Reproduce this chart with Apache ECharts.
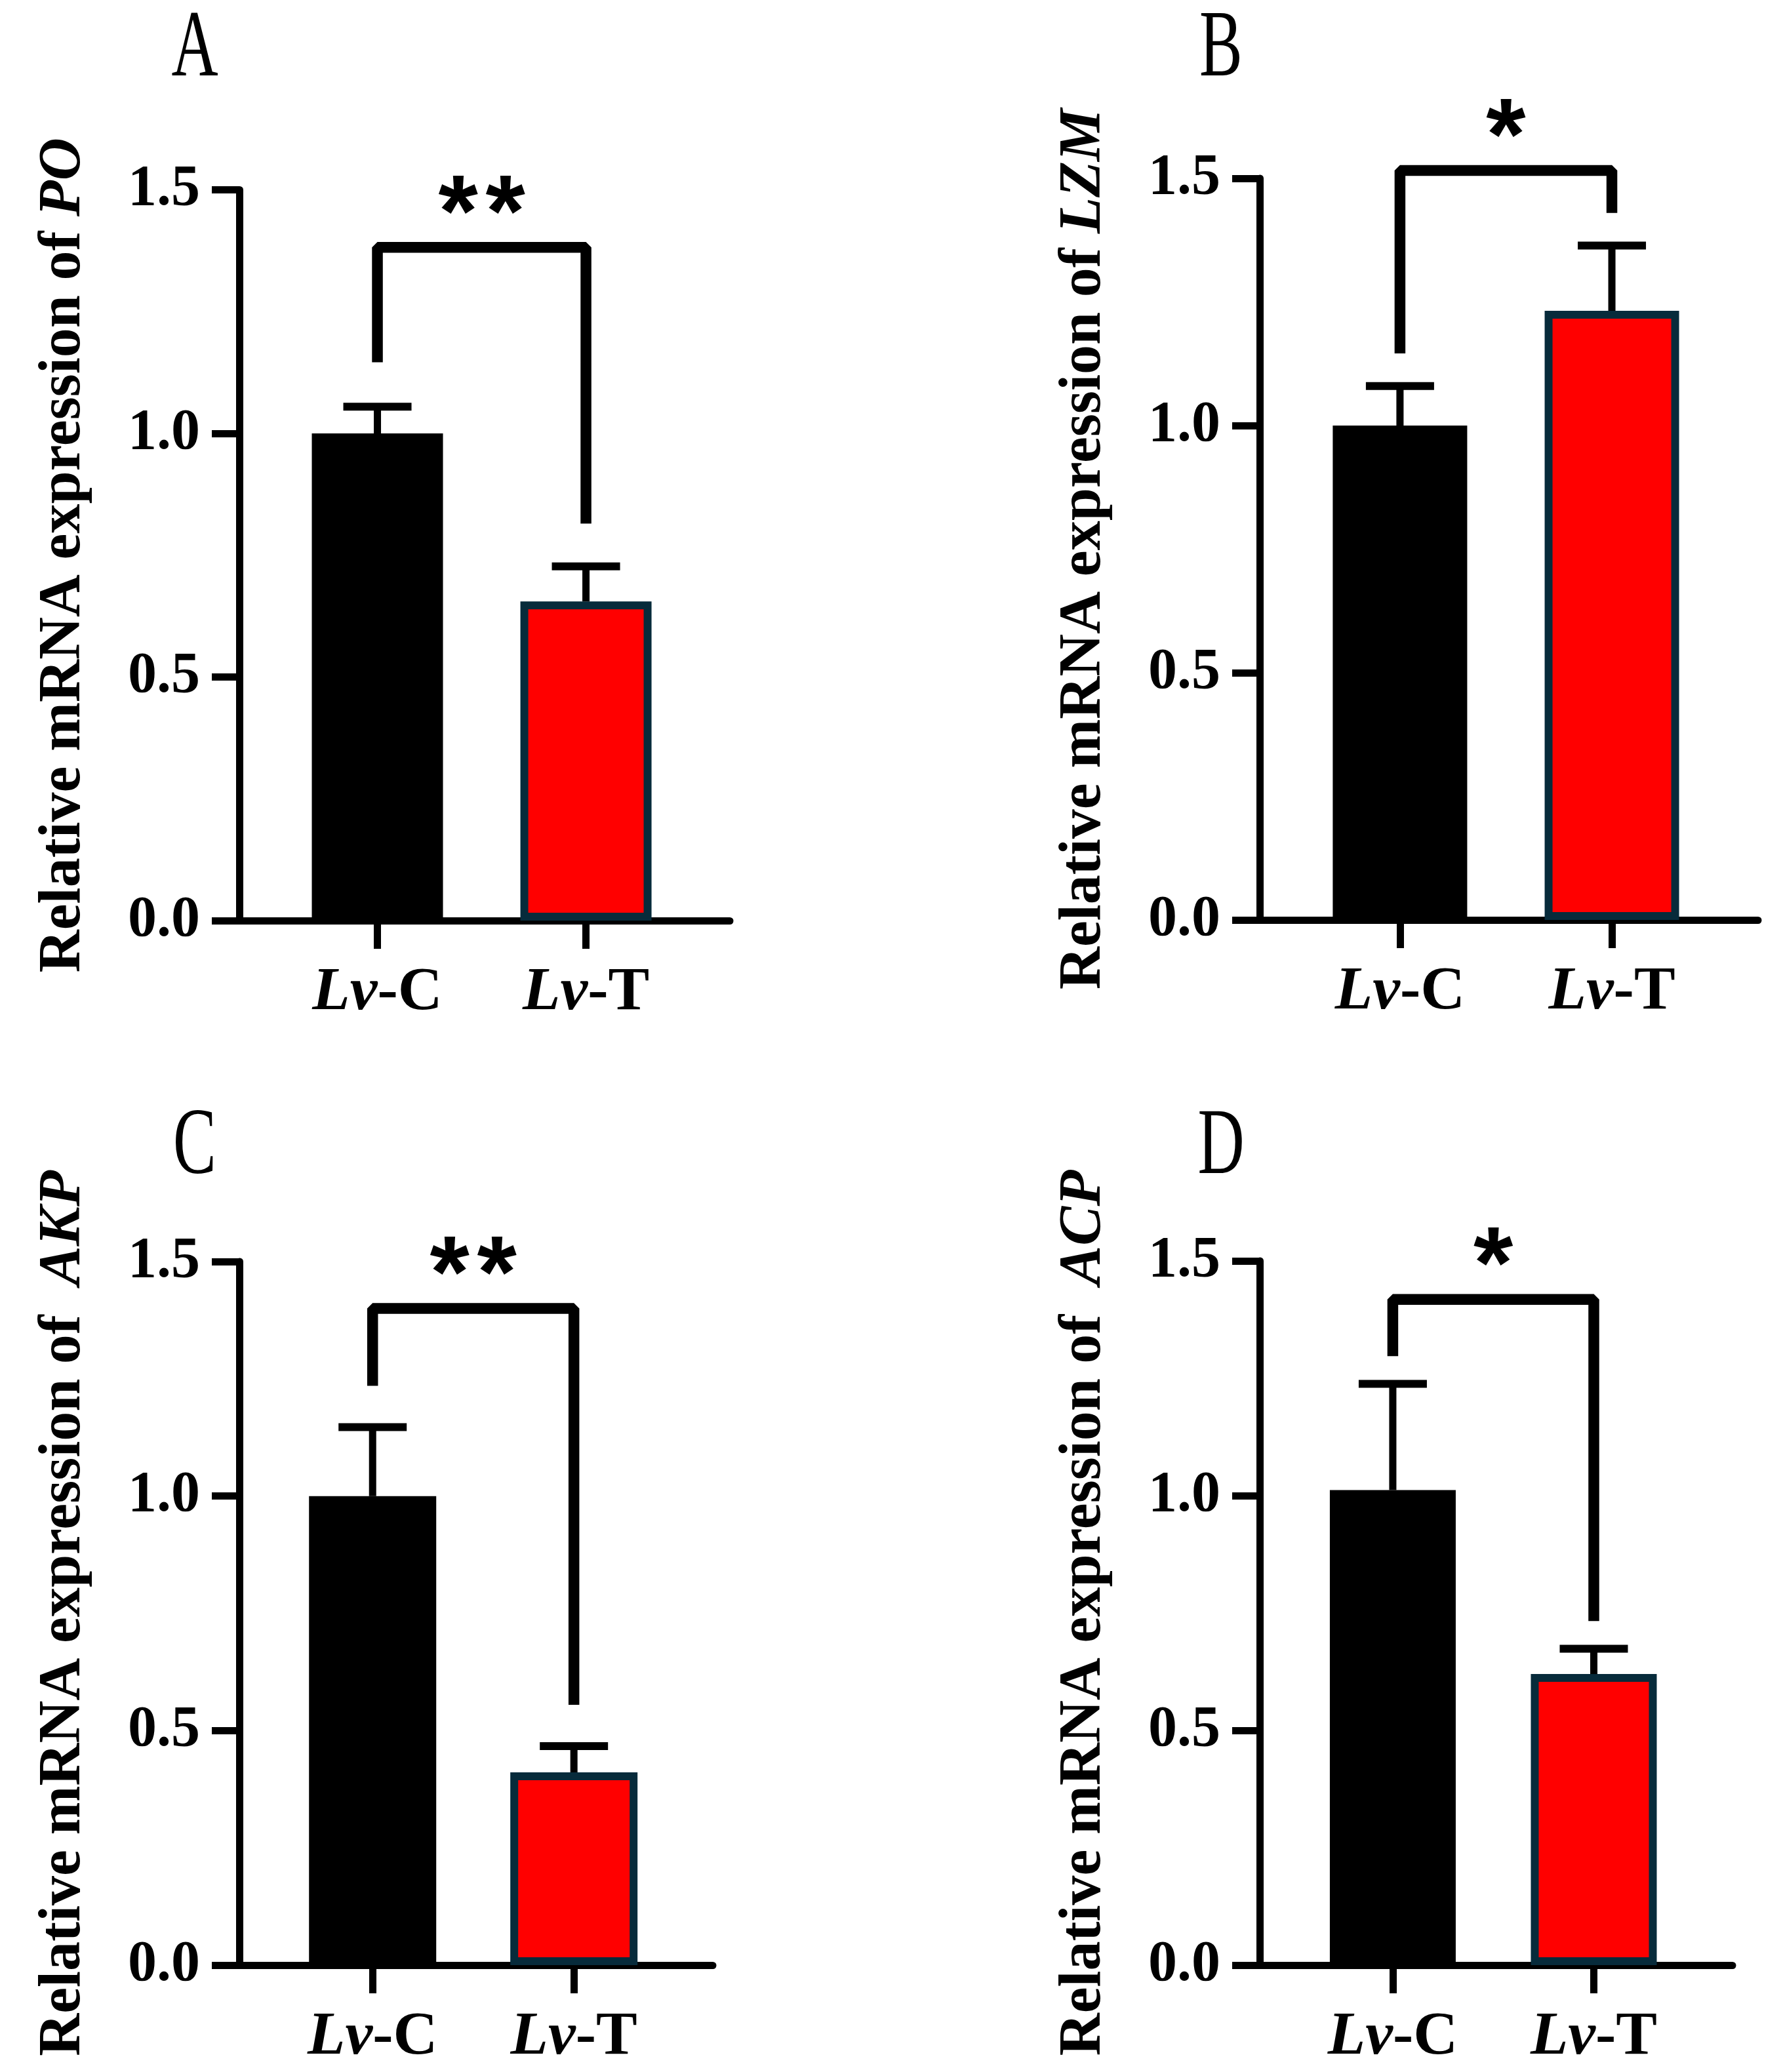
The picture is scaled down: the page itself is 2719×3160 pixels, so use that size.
<!DOCTYPE html>
<html>
<head>
<meta charset="utf-8">
<script src="https://cdn.jsdelivr.net/npm/echarts@6/dist/echarts.min.js"></script>
<style>
  html, body { margin: 0; padding: 0; background: #ffffff; }
  #chart { width: 2719px; height: 3160px; }
</style>
</head>
<body>
<div id="chart"></div>
<script>
// ---- data ----
var panelLetters = ['A', 'B', 'C', 'D'];
var groups = ['Lv-C', 'Lv-T'];
var titlePrefix = ['Relative mRNA expression of ', 'Relative mRNA expression of ',
                   'Relative mRNA expression of  ', 'Relative mRNA expression of  '];
var genes = ['PO', 'LZM', 'AKP', 'ACP'];
var meanCtrl = [1.0, 1.0, 1.0, 1.012];
var meanTreat = [0.655, 1.232, 0.411, 0.62];
var sdCtrl = [0.055, 0.08, 0.147, 0.226];
var sdTreat = [0.072, 0.132, 0.056, 0.054];
// significance bracket: left leg end, bar height, right leg end
var bracketLeft = [1.146, 1.146, 1.235, 1.297];
var bracketTop = [1.382, 1.516, 1.40, 1.418];
var bracketRight = [0.815, 1.43, 0.555, 0.733];
var stars = ['**', '*', '**', '*'];
var yMax = 1.5;
var yStep = 0.5;

// ---- layout (pixels) ----
var layout = [
  { left: 365,  top: 289.5, width: 748, height: 1114.5, barW: 200, letter: [297, 77] },
  { left: 1921, top: 272,   width: 760, height: 1131,   barW: 205, letter: [1862, 77] },
  { left: 365,  top: 1924,  width: 722, height: 1073,   barW: 194, letter: [297, 1751] },
  { left: 1921, top: 1923,  width: 721, height: 1074,   barW: 192, letter: [1862, 1751] }
];
var xMin = 0.338, xMax = 2.69;

var SERIF = '"Liberation Serif", "Times New Roman", serif';
var SANS = '"Liberation Sans", Arial, sans-serif';
var AXIS_W = 11;
var STAR_STEP = 72;

var chart = echarts.init(document.getElementById('chart'), null, { renderer: 'canvas' });

var grids = [], xAxes = [], yAxes = [], series = [], graphics = [];

layout.forEach(function (L, i) {
  grids.push({ left: L.left, top: L.top, width: L.width, height: L.height, outerBoundsMode: 'none' });

  xAxes.push({
    gridIndex: i,
    type: 'value',
    min: xMin,
    max: xMax,
    splitLine: { show: false },
    axisLine: { show: true, onZero: false, lineStyle: { color: '#000', width: AXIS_W } },
    axisTick: { show: true, customValues: [1, 2], length: 43, lineStyle: { color: '#000', width: AXIS_W } },
    axisLabel: {
      customValues: [1, 2],
      margin: 64,
      formatter: function (v) {
        var g = groups[Math.round(v) - 1] || '';
        var k = g.indexOf('-');
        return '{i|' + g.slice(0, k) + '}{n|' + g.slice(k) + '}';
      },
      rich: {
        i: { fontFamily: SERIF, fontStyle: 'italic', fontWeight: 'bold', fontSize: 94, color: '#000' },
        n: { fontFamily: SERIF, fontWeight: 'bold', fontSize: 94, color: '#000' }
      }
    }
  });

  yAxes.push({
    gridIndex: i,
    type: 'value',
    min: 0,
    max: yMax,
    interval: yStep,
    splitLine: { show: false },
    name: '{n|' + titlePrefix[i] + '}{i|' + genes[i] + '}',
    nameLocation: 'middle',
    nameRotate: 90,
    nameGap: 222,
    nameTextStyle: {
      fontFamily: SERIF, fontWeight: 'bold', fontSize: 90, lineHeight: 90, color: '#000',
      rich: {
        n: { fontFamily: SERIF, fontWeight: 'bold', fontSize: 90, lineHeight: 90, color: '#000' },
        i: { fontFamily: SERIF, fontWeight: 'bold', fontStyle: 'italic', fontSize: 90, lineHeight: 90, color: '#000' }
      }
    },
    axisLine: { show: true, onZero: false, lineStyle: { color: '#000', width: AXIS_W } },
    axisTick: { show: true, length: 42, lineStyle: { color: '#000', width: AXIS_W } },
    axisLabel: {
      margin: 60,
      fontFamily: SERIF, fontWeight: 'bold', fontSize: 88, color: '#000',
      formatter: function (v) { return v.toFixed(1); }
    }
  });

  series.push({
    type: 'bar',
    xAxisIndex: i,
    yAxisIndex: i,
    barWidth: L.barW,
    silent: true,
    z: 2,
    data: [
      { value: [1, meanCtrl[i]], itemStyle: { color: '#000000', borderColor: '#000000', borderWidth: 12 } },
      { value: [2, meanTreat[i]], itemStyle: { color: '#ff0000', borderColor: '#072b3b', borderWidth: 12 } }
    ]
  });

  // error bars (mean + SD)
  series.push({
    type: 'custom',
    xAxisIndex: i,
    yAxisIndex: i,
    silent: true,
    clip: false,
    z: 3,
    encode: { x: 0, y: 1 },
    data: [[1, meanCtrl[i], sdCtrl[i]], [2, meanTreat[i], sdTreat[i]]],
    renderItem: function (params, api) {
      var x = api.value(0), m = api.value(1), s = api.value(2);
      var base = api.coord([x, m]);
      var top = api.coord([x, m + s]);
      return {
        type: 'group',
        children: [
          { type: 'line', shape: { x1: base[0], y1: base[1], x2: top[0], y2: top[1] },
            style: { stroke: '#000', lineWidth: 11 } },
          { type: 'line', shape: { x1: top[0] - 52, y1: top[1], x2: top[0] + 52, y2: top[1] },
            style: { stroke: '#000', lineWidth: 12 } }
        ]
      };
    }
  });

  // significance bracket + stars
  series.push({
    type: 'custom',
    xAxisIndex: i,
    yAxisIndex: i,
    silent: true,
    clip: false,
    z: 4,
    encode: { x: [0, 1], y: [2, 3, 4] },
    data: [[1, 2, bracketLeft[i], bracketTop[i], bracketRight[i]]],
    renderItem: function (params, api) {
      var p1 = api.coord([api.value(0), api.value(2)]);
      var p2 = api.coord([api.value(0), api.value(3)]);
      var p3 = api.coord([api.value(1), api.value(3)]);
      var p4 = api.coord([api.value(1), api.value(4)]);
      var children = [
        { type: 'polyline', shape: { points: [p1, p2, p3, p4] },
          style: { stroke: '#000', lineWidth: 16.5, fill: null, lineJoin: 'bevel' } }
      ];
      var mid = (p2[0] + p3[0]) / 2;
      var n = stars[i].length;
      for (var k = 0; k < n; k++) {
        children.push({
          type: 'text',
          x: mid + (k - (n - 1) / 2) * STAR_STEP,
          y: p2[1] - 45,
          style: { text: stars[i].charAt(k), fontFamily: SANS, fontWeight: 'bold', fontSize: 155,
                   fill: '#000', align: 'center', verticalAlign: 'middle' }
        });
      }
      return { type: 'group', children: children };
    }
  });

  graphics.push({
    type: 'text',
    x: L.letter[0],
    y: L.letter[1],
    scaleX: 0.68,
    style: { text: panelLetters[i], fontFamily: SERIF, fontSize: 145, fill: '#000',
             align: 'center', verticalAlign: 'middle' }
  });
});

chart.setOption({
  backgroundColor: '#ffffff',
  animation: false,
  grid: grids,
  xAxis: xAxes,
  yAxis: yAxes,
  series: series,
  graphic: graphics
});
</script>
</body>
</html>
